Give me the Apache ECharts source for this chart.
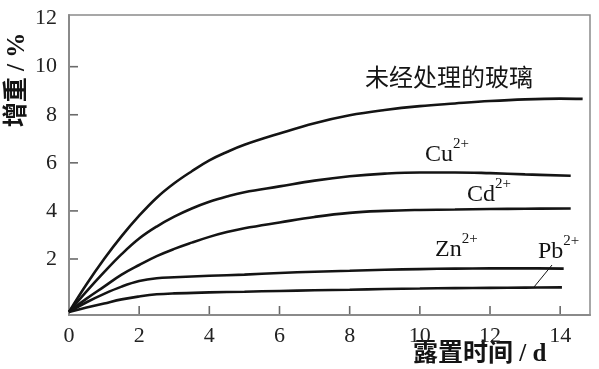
<!DOCTYPE html>
<html>
<head>
<meta charset="utf-8">
<script src="https://cdn.jsdelivr.net/npm/echarts@6/dist/echarts.min.js"></script>
<style>
html,body{margin:0;padding:0;background:#fff;}
#chart{width:599px;height:369px;}
</style>
</head>
<body>
<div id="chart"></div>
<script>
// ---- data ----
const xTickLabels = [0, 2, 4, 6, 8, 10, 12, 14];
const yTickLabels = [2, 4, 6, 8, 10, 12];
const xTickMarks = [2, 4, 6, 8, 10, 12, 14];
const yTickMarks = [2, 4, 6, 8, 10];

const untreatedDays = [0, 0.5, 1, 1.5, 2, 2.5, 3, 3.5, 4, 4.5, 5, 6, 7, 8, 9, 10, 11, 12, 13, 14, 14.64];
const untreatedGain = [-0.2, 0.95, 2.0, 2.95, 3.8, 4.55, 5.15, 5.65, 6.1, 6.45, 6.75, 7.22, 7.65, 7.98, 8.2, 8.36, 8.47, 8.57, 8.64, 8.67, 8.66];

const cuDays = [0, 0.5, 1, 1.5, 2, 2.5, 3, 3.5, 4, 4.5, 5, 6, 7, 8, 9, 10, 11, 12, 13, 14.3];
const cuGain = [-0.2, 0.65, 1.45, 2.2, 2.85, 3.35, 3.76, 4.1, 4.38, 4.6, 4.78, 5.02, 5.26, 5.44, 5.55, 5.6, 5.6, 5.57, 5.52, 5.46];

const cdDays = [0, 0.5, 1, 1.5, 2, 2.5, 3, 3.5, 4, 4.5, 5, 6, 7, 8, 9, 10, 11, 12, 13, 14.3];
const cdGain = [-0.2, 0.35, 0.85, 1.35, 1.75, 2.12, 2.42, 2.68, 2.92, 3.12, 3.28, 3.52, 3.75, 3.92, 4.0, 4.04, 4.06, 4.08, 4.09, 4.1];

const znDays = [0, 0.5, 1, 1.5, 2, 2.5, 3, 4, 5, 6, 7, 8, 9, 10, 11, 12, 13, 14.1];
const znGain = [-0.2, 0.2, 0.55, 0.85, 1.08, 1.2, 1.24, 1.3, 1.35, 1.42, 1.47, 1.51, 1.55, 1.58, 1.6, 1.61, 1.61, 1.6];

const pbDays = [0, 0.5, 1, 1.5, 2, 2.5, 3, 4, 5, 6, 7, 8, 9, 10, 11, 12, 13, 14.05];
const pbGain = [-0.2, -0.02, 0.15, 0.32, 0.44, 0.53, 0.57, 0.61, 0.64, 0.67, 0.7, 0.72, 0.75, 0.77, 0.79, 0.8, 0.81, 0.82];

const seriesNames = ['未经处理的玻璃', 'Cu2+', 'Cd2+', 'Zn2+', 'Pb2+'];

// ---- build ----
const X_MIN = 0, X_MAX = 14.85, Y_MIN = -0.33, Y_MAX = 12.15;
function zip(xs, ys) { return xs.map((x, i) => [x, ys[i]]); }
const allData = [
  zip(untreatedDays, untreatedGain),
  zip(cuDays, cuGain),
  zip(cdDays, cdGain),
  zip(znDays, znGain),
  zip(pbDays, pbGain)
];

function near(v, list) { return list.some(t => Math.abs(t - v) < 1e-6); }

const serif = "'Liberation Serif', 'Noto Sans CJK SC', serif";
const axisGray = '#8a8a8a';
const tickColor = '#6a6a6a';
const ink = '#141414';
const TICK_LEN = 8;

function ionLabel(base, left, top) {
  return {
    type: 'text', left: left, top: top,
    style: {
      text: '{m|' + base + '}{s|2+}',
      fill: ink,
      rich: {
        m: { fontSize: 24, fontFamily: serif, fill: ink, lineHeight: 30, verticalAlign: 'bottom' },
        s: { fontSize: 15, fontFamily: serif, fill: ink, lineHeight: 15, verticalAlign: 'top' }
      }
    }
  };
}

const lineSeries = allData.map((d, i) => ({
  name: seriesNames[i],
  type: 'line',
  data: d,
  smooth: 0.4,
  showSymbol: false,
  lineStyle: { color: ink, width: 2.6 },
  itemStyle: { color: ink },
  z: 3
}));

// inward tick marks drawn as short line segments through the axis scales
function tickLines(values, horizontalAxis) {
  return values.map(v => {
    const start = horizontalAxis ? [v, Y_MIN] : [X_MIN, v];
    return { coords: [start, start] , value: v };
  });
}
const xTickSeries = {
  type: 'custom', name: 'xTicks', silent: true, z: 10,
  coordinateSystem: 'cartesian2d',
  data: xTickMarks.map(v => [v, Y_MIN]),
  renderItem: function (params, api) {
    const p = api.coord([api.value(0), api.value(1)]);
    return {
      type: 'line',
      shape: { x1: p[0], y1: p[1] - 1, x2: p[0], y2: p[1] - 1 - TICK_LEN },
      style: { stroke: tickColor, lineWidth: 1.6, fill: null }
    };
  }
};
const yTickSeries = {
  type: 'custom', name: 'yTicks', silent: true, z: 10,
  coordinateSystem: 'cartesian2d',
  data: yTickMarks.map(v => [X_MIN, v]),
  renderItem: function (params, api) {
    const p = api.coord([api.value(0), api.value(1)]);
    return {
      type: 'line',
      shape: { x1: p[0] + 1, y1: p[1], x2: p[0] + 1 + TICK_LEN, y2: p[1] },
      style: { stroke: tickColor, lineWidth: 1.6, fill: null }
    };
  }
};

const chart = echarts.init(document.getElementById('chart'), null, { renderer: 'canvas' });
chart.setOption({
  animation: false,
  backgroundColor: '#ffffff',
  grid: {
    left: 69, right: 9, top: 15, bottom: 54,
    show: true, borderColor: axisGray, borderWidth: 1.5
  },
  xAxis: {
    type: 'value', min: X_MIN, max: X_MAX, splitNumber: 7,
    axisLine: { show: true, onZero: false, lineStyle: { color: axisGray, width: 2 } },
    axisTick: { show: false },
    axisLabel: {
      show: true, showMinLabel: true, showMaxLabel: true,
      formatter: v => near(v, xTickLabels) ? String(Math.round(v)) : '',
      margin: 10, fontSize: 22, fontFamily: serif, color: '#222'
    },
    splitLine: { show: false }
  },
  yAxis: {
    type: 'value', min: Y_MIN, max: Y_MAX, splitNumber: 6,
    axisLine: { show: true, onZero: false, lineStyle: { color: axisGray, width: 2 } },
    axisTick: { show: false },
    axisLabel: {
      show: true, showMinLabel: true, showMaxLabel: true,
      formatter: v => near(v, yTickLabels) ? String(Math.round(v)) : '',
      margin: 12, fontSize: 22, fontFamily: serif, color: '#222'
    },
    splitLine: { show: false }
  },
  series: lineSeries.concat([xTickSeries, yTickSeries]),
  graphic: [
    {
      type: 'text', left: 365, top: 65,
      style: { text: '未经处理的玻璃', fontSize: 24, fontFamily: "'Noto Sans CJK SC', sans-serif", fill: ink }
    },
    ionLabel('Cu', 425, 137),
    ionLabel('Cd', 467, 177),
    ionLabel('Zn', 435, 232),
    ionLabel('Pb', 538, 234),
    {
      type: 'line',
      shape: { x1: 552, y1: 265, x2: 534, y2: 287 },
      style: { stroke: ink, lineWidth: 1 }
    },
    {
      type: 'text', left: 413, top: 342,
      style: { text: '露置时间 / d', fontSize: 25, fontWeight: 'bold', fontFamily: serif, fill: ink }
    },
    {
      type: 'text', x: 18, y: 80, rotation: Math.PI / 2,
      style: { text: '增重 / %', fontSize: 25, fontWeight: 'bold', fontFamily: serif, fill: ink, align: 'center', verticalAlign: 'middle' }
    }
  ]
});
</script>
</body>
</html>
